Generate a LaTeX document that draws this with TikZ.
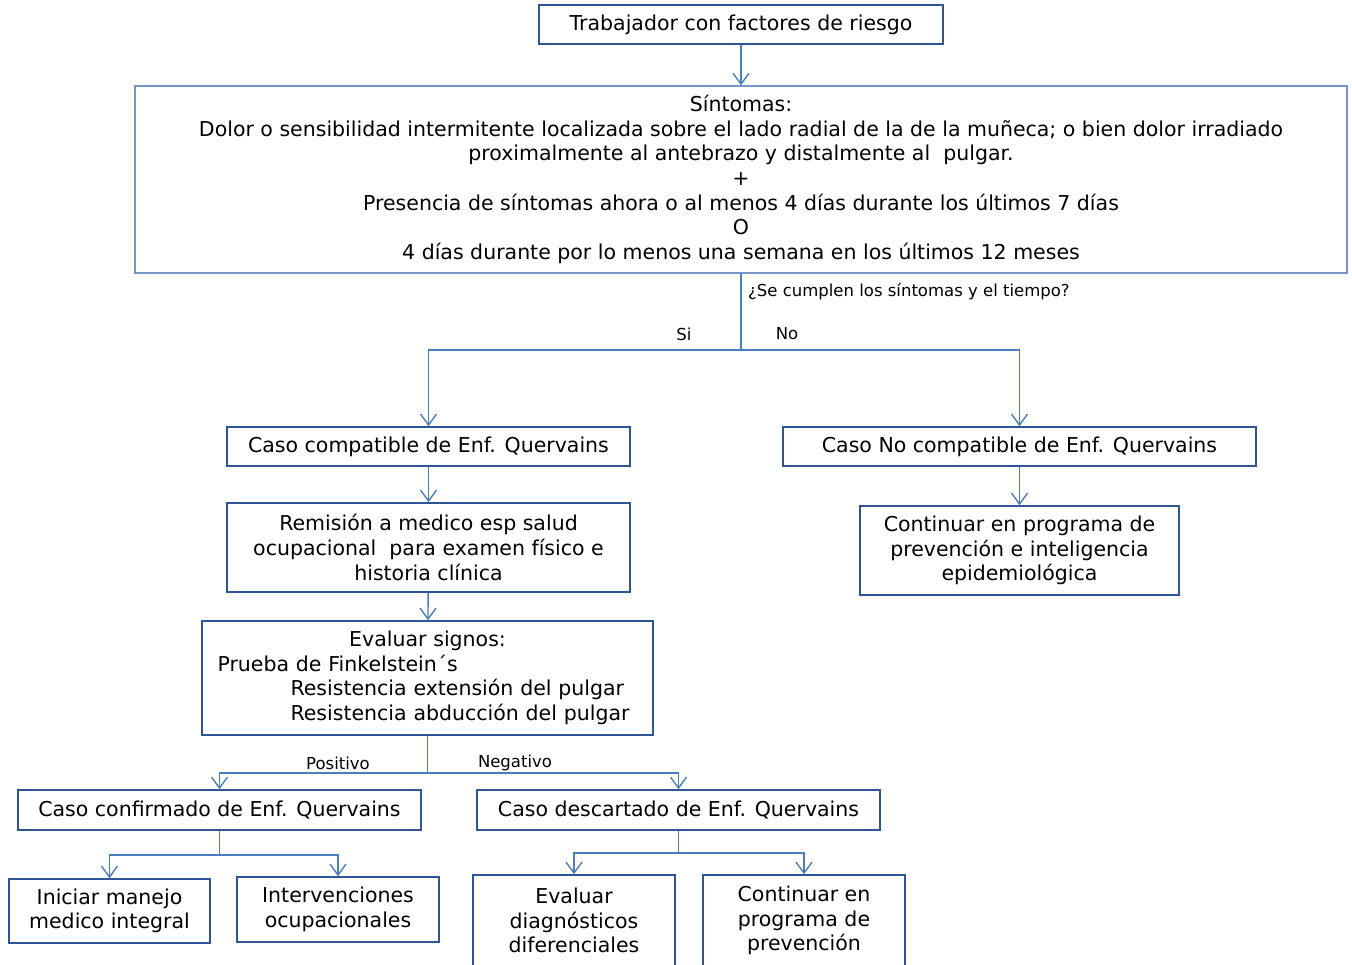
\documentclass[tikz,border=0pt]{standalone}
\usepackage{fontspec}
\setmainfont{DejaVu Sans}
\usetikzlibrary{arrows.meta,positioning}
\definecolor{boxblue}{RGB}{47,85,151}
\definecolor{lineblue}{RGB}{74,126,187}
\definecolor{paleblue}{RGB}{120,150,200}

\begin{document}
\begin{tikzpicture}[x=1pt,y=-1pt,
        box/.style={draw=boxblue,line width=1.5pt,inner sep=0pt,align=center,
            font=\fontsize{20.5}{24.6}\selectfont},
        link/.style={draw=lineblue,line width=1.4pt,
            -{Straight Barb[length=11pt,width=16pt,line width=1.4pt]}},
        trunk/.style={draw=lineblue,line width=1.4pt},
        tag/.style={inner sep=0pt,font=\fontsize{16.5}{18}\selectfont}]
        \clip (0,0) rectangle (1352,964);
        \fill[white] (0,0) rectangle (1352,964);

        % Entry and symptoms
        \node[box,minimum width=404,minimum height=39] (trab) at (741,24.5)
            {Trabajador con factores de riesgo};
        \node[box,draw=paleblue,line width=1.2pt,minimum width=1212,minimum height=187] (sint) at (741,179.5)
            {Síntomas:\\
             Dolor o sensibilidad intermitente localizada sobre el lado radial de la de la muñeca; o bien dolor irradiado\\
             proximalmente al antebrazo y distalmente al~ pulgar.\\
             +\\
             Presencia de síntomas ahora o al menos 4 días durante los últimos 7 días\\
             O\\
             4 días durante por lo menos una semana en los últimos 12 meses};

        % First decision
        \node[box,minimum width=403,minimum height=39] (compat) at (428.5,446.5)
            {Caso compatible de Enf. Quervains};
        \node[box,minimum width=473,minimum height=39] (nocompat) at (1019.5,446.5)
            {Caso No compatible de Enf. Quervains};
        \node[box,minimum width=403,minimum height=89] (remision) at (428.5,547.5)
            {Remisión a medico esp salud\\ocupacional~ para examen físico e\\historia clínica};
        \node[box,minimum width=319,minimum height=89] (continuar) at (1019.5,550.5)
            {Continuar en programa de\\prevención e inteligencia\\epidemiológica};
        \node[box,align=left,text width=420,inner xsep=15.5,minimum height=114] (signos) at (427.5,678)
            {\makebox[420pt]{Evaluar signos:}\\
             Prueba de Finkelstein´s\\
             \hspace*{73pt}Resistencia extensión del pulgar\\
             \hspace*{73pt}Resistencia abducción del pulgar};

        % Second decision
        \node[box,minimum width=403,minimum height=40] (confirm) at (219.5,810)
            {Caso confirmado de Enf. Quervains};
        \node[box,minimum width=403,minimum height=40] (descart) at (678.5,810)
            {Caso descartado de Enf. Quervains};
        \node[box,minimum width=201,minimum height=64] (iniciar) at (109.5,911)
            {Iniciar manejo\\medico integral};
        \node[box,minimum width=202,minimum height=65] (interv) at (338,909.5)
            {Intervenciones\\ocupacionales};
        \node[box,minimum width=202,minimum height=91] (diferen) at (574,920.5)
            {Evaluar\\diagnósticos\\diferenciales};
        \node[box,minimum width=202,minimum height=91] (prevenc) at (804,920.5)
            {Continuar en\\programa de\\prevención};

        % Connectors
        \coordinate (fork1) at (741,350);
        \coordinate (fork2) at (427.5,773);
        \coordinate (fork3) at (219.5,855);
        \coordinate (fork4) at (678.5,853);
        \draw[link] (trab) -- (sint);
        \draw[trunk] (sint.south) -- (fork1);
        \draw[link] (fork1) -| (compat);
        \draw[link] (fork1) -| (nocompat);
        \draw[link] (compat) -- (remision);
        \draw[link] (nocompat) -- (continuar);
        \draw[link] (remision) -- (signos);
        \draw[trunk] (signos.south) -- (fork2);
        \draw[link] (fork2) -| (confirm);
        \draw[link] (fork2) -| (descart);
        \draw[trunk] (confirm.south) -- (fork3);
        \draw[link] (fork3) -| (iniciar);
        \draw[link] (fork3) -| (interv);
        \draw[trunk] (descart.south) -- (fork4);
        \draw[link] (fork4) -| (diferen);
        \draw[link] (fork4) -| (prevenc);

        % Labels
        \node[tag,anchor=west] (pregunta) at (748,292) {¿Se cumplen los síntomas y el tiempo?};
        \node[tag] (si) at (684,334) {Si};
        \node[tag] (no) at (787,334) {No};
        \node[tag] (positivo) at (338,763) {Positivo};
        \node[tag] (negativo) at (515,763) {Negativo};
    \end{tikzpicture}
\end{document}
